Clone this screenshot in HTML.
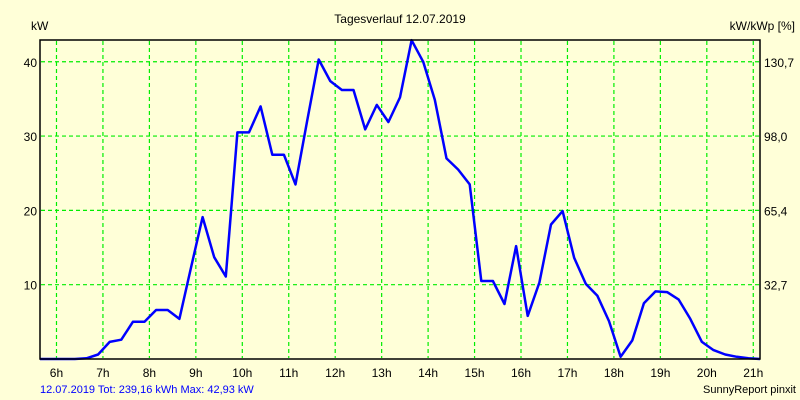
<!DOCTYPE html>
<html><head><meta charset="utf-8"><style>
body{margin:0;background:#ffffd8;}
svg{display:block;font-family:"Liberation Sans",sans-serif;}
</style></head><body>
<svg width="800" height="400" xmlns="http://www.w3.org/2000/svg">
<rect x="0" y="0" width="800" height="400" fill="#ffffd8"/>
<text x="400" y="23" text-anchor="middle" font-size="12">Tagesverlauf 12.07.2019</text>
<text x="31" y="30" font-size="12">kW</text>
<text x="795" y="30" text-anchor="end" font-size="12">kW/kWp [%]</text>
<g id="grid"></g>
<g id="axes"></g>
<polyline id="line" fill="none" stroke="#0000ff" stroke-width="2.5" stroke-linejoin="round"/>
<rect x="40" y="40" width="720" height="319" fill="none" stroke="#000" stroke-width="1.5"/>
<text x="40" y="393" font-size="11" fill="#0000ff">12.07.2019 Tot: 239,16 kWh Max: 42,93 kW</text>
<text x="796" y="393" text-anchor="end" font-size="11">SunnyReport pinxit</text>
</svg>
<script>
const startHour = 5.645;
const stepHours = 0.25;
const powerValues = [0,0,0,0,0.1,0.6,2.3,2.6,5.0,5.0,6.6,6.6,5.4,12.3,19.1,13.7,11.1,30.5,30.5,34.0,27.5,27.5,23.5,32.0,40.3,37.4,36.2,36.2,30.9,34.2,31.9,35.2,42.9,40.0,34.9,27.0,25.5,23.5,10.5,10.5,7.4,15.2,5.8,10.3,18.1,19.9,13.6,10.1,8.5,5.1,0.3,2.5,7.5,9.1,9.0,8.0,5.4,2.3,1.2,0.6,0.3,0.1,0];
const hourTicks = [6,7,8,9,10,11,12,13,14,15,16,17,18,19,20,21];
const leftTicks = [10,20,30,40];
const rightTickLabels = ["32,7","65,4","98,0","130,7"];
const xMin = 5.645, xMax = 21.145, yMax = 42.93;
function xs(h){return 40 + (h - xMin) / (xMax - xMin) * 720;}
function ys(v){return 359 - v / yMax * 319;}
const NS = "http://www.w3.org/2000/svg";
const grid = document.getElementById('grid'), axes = document.getElementById('axes');
function mk(tag, attrs, parent){const e=document.createElementNS(NS,tag);for(const k in attrs)e.setAttribute(k,attrs[k]);parent.appendChild(e);return e;}
hourTicks.forEach(h=>{
  const x = xs(h);
  const l = mk('line',{x1:x,x2:x,y1:41,y2:358,stroke:'#00ee00','stroke-dasharray':'4,3','stroke-width':1.2},grid);
  
  
  const t = mk('text',{x:x,y:377,'text-anchor':'middle','font-size':12},axes);
  t.textContent = h + 'h';
  
  
});
leftTicks.forEach((v,i)=>{
  const y = ys(v);
  const l = mk('line',{x1:41,x2:759,y1:y,y2:y,stroke:'#00ee00','stroke-dasharray':'4,3','stroke-width':1.2},grid);
  
  
  const t = mk('text',{x:37,y:y+5,'text-anchor':'end','font-size':12},axes);
  t.textContent = v;
  
  
  const r = mk('text',{x:764,y:y+5,'font-size':12},axes);
  r.textContent = rightTickLabels[i];
  
  
});
document.getElementById('line').setAttribute('points', powerValues.map((v,i)=>xs(startHour+i*stepHours).toFixed(1)+','+ys(v).toFixed(1)).join(' '));
</script>
</body></html>
